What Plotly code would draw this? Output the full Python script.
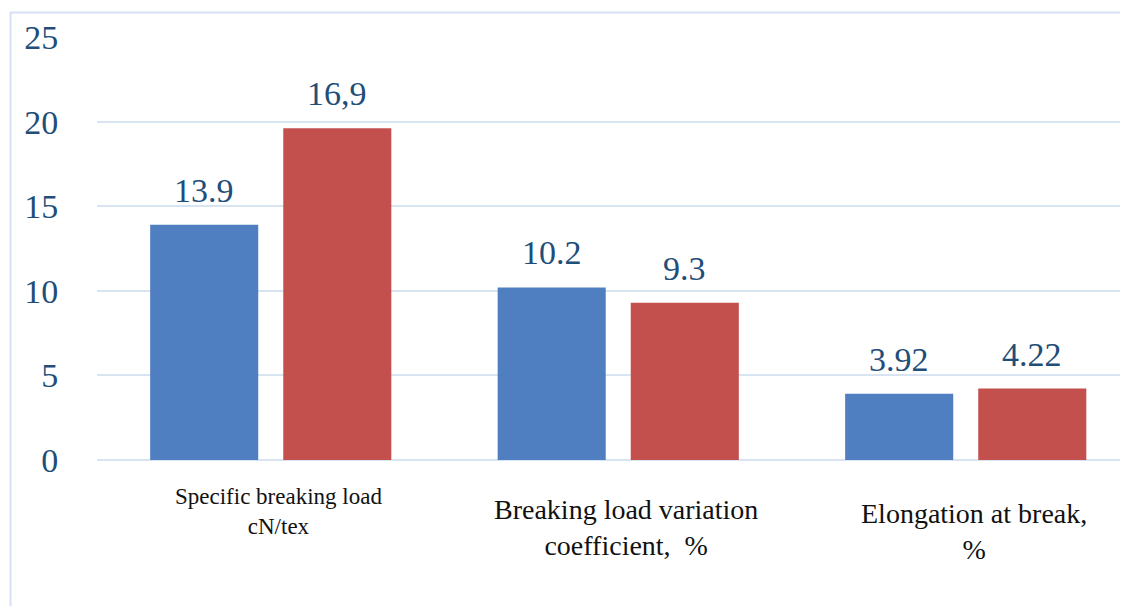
import plotly.graph_objects as go

categories = ["Specific breaking load<br>cN/tex",
              "Breaking load variation<br>coefficient,  %",
              "Elongation at break,<br>%"]
series_a = [13.9, 10.2, 3.92]
series_b = [19.6, 9.3, 4.22]
labels_a = ["13.9", "10.2", "3.92"]
labels_b = ["16,9", "9.3", "4.22"]
cat_font_sizes = [23, 28, 28]
cat_yshift = [-22, -32, -36]
y_ticks = [0, 5, 10, 15, 20, 25]

x_idx = list(range(len(categories)))
serif = "Liberation Serif"
num_color = "#1f4e79"
cat_color = "#111111"
bargap = 0.234
bargroupgap = 0.188
slot = (1 - bargap) / 2


def colored(t, col):
    return "<span style='color:%s'>%s</span>" % (col, t)


fig = go.Figure()
fig.add_trace(go.Bar(x=x_idx, y=series_a,
                     marker=dict(color="#4f7fc0", line=dict(width=0))))
fig.add_trace(go.Bar(x=x_idx, y=series_b,
                     marker=dict(color="#c4504e", line=dict(width=0))))

for vals, labs, off in ((series_a, labels_a, -slot / 2), (series_b, labels_b, slot / 2)):
    for i, (v, t) in enumerate(zip(vals, labs)):
        fig.add_annotation(x=i + off, y=v, text=colored(t, num_color),
                           showarrow=False, yanchor="bottom", yshift=14,
                           font=dict(family=serif, size=34))

for i, (c, fs, ys) in enumerate(zip(categories, cat_font_sizes, cat_yshift)):
    text = "<br>".join(colored(part, cat_color) for part in c.split("<br>"))
    fig.add_annotation(x=i, y=0, text=text, showarrow=False,
                       yanchor="top", xshift=8, yshift=ys,
                       font=dict(family=serif, size=fs))

fig.add_shape(type="rect", xref="paper", yref="paper",
              x0=-0.0832, x1=1.05, y0=-0.5, y1=1.0579,
              line=dict(color="#d6e2f3", width=2), layer="below")

fig.update_layout(
    width=1128, height=606,
    margin=dict(l=89, r=0, t=29, b=154),
    paper_bgcolor="white", plot_bgcolor="white",
    barmode="group", bargap=bargap, bargroupgap=bargroupgap,
    showlegend=False,
    xaxis=dict(range=[-0.5, 2.49], showticklabels=False, showgrid=False,
               zeroline=False, showline=False),
    yaxis=dict(range=[0, 25], tickvals=y_ticks,
               ticktext=[colored(v, num_color) for v in y_ticks],
               showgrid=True,
               gridcolor="#d9e4f3", gridwidth=2, zeroline=True,
               zerolinecolor="#d9e4f3", zerolinewidth=2, showline=False,
               ticks="outside", ticklen=31, tickcolor="rgba(0,0,0,0)",
               tickfont=dict(family=serif, size=34)),
)

fig.write_html("out.html")
